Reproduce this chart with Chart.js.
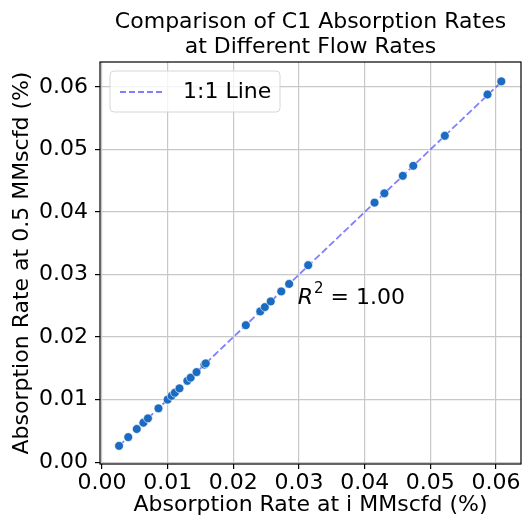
<!DOCTYPE html>
<html>
<head>
<meta charset="utf-8">
<script src="https://cdn.jsdelivr.net/npm/chart.js@4.4.0/dist/chart.umd.min.js"></script>
<style>
  html, body { margin: 0; padding: 0; background: #fff; }
  #wrap { width: 522px; height: 518px; }
</style>
</head>
<body>
<div id="wrap"><canvas id="myChart" width="522" height="518"></canvas></div>
<script>
// absorption rates (%) at i MMscfd vs 0.5 MMscfd
const rateAtI = [0.0026, 0.0040, 0.0053, 0.0063, 0.0070, 0.0086, 0.0100, 0.0106, 0.0111, 0.0118,
  0.0130, 0.0135, 0.0144, 0.0156, 0.0158, 0.0219, 0.0241, 0.0248, 0.0257, 0.0273,
  0.0285, 0.0314, 0.0415, 0.0430, 0.0458, 0.0474, 0.0522, 0.0587, 0.0608];
const rateAtHalf = [0.0026, 0.0040, 0.0053, 0.0063, 0.0070, 0.0086, 0.0100, 0.0106, 0.0111, 0.0118,
  0.0130, 0.0135, 0.0144, 0.0156, 0.0158, 0.0219, 0.0241, 0.0248, 0.0257, 0.0273,
  0.0285, 0.0315, 0.0415, 0.0430, 0.0458, 0.0474, 0.0522, 0.0588, 0.0609];
const tickVals = [0, 0.01, 0.02, 0.03, 0.04, 0.05, 0.06];
const titleLines = ["Comparison of C1 Absorption Rates", "at Different Flow Rates"];
const rSquared = "1.00";

const FONT = "'DejaVu Sans', sans-serif";
const LINE_COLOR = "rgba(0,0,255,0.5)";

const points = rateAtI.map((x, i) => ({ x: x, y: rateAtHalf[i] }));
const lo = Math.min(...rateAtI), hi = Math.max(...rateAtI);

// title, frame, legend box and R^2 text
const extras = {
	id: "extras",
	afterDraw(chart) {
		const ctx = chart.ctx;
		const a = chart.chartArea;
		const xs = chart.scales.x, ys = chart.scales.y;
		ctx.save();

		// frame
		ctx.strokeStyle = "#000";
		ctx.lineWidth = 1.2;
		ctx.strokeRect(a.left, a.top, a.right - a.left, a.bottom - a.top);

		// title
		ctx.fillStyle = "#000";
		ctx.font = "22px " + FONT;
		ctx.textAlign = "center";
		ctx.textBaseline = "middle";
		const cx = (a.left + a.right) / 2;
		titleLines.forEach((t, i) => ctx.fillText(t, cx, 22 + i * 25));

		// legend
		const lx = 110, ly = 71, lw = 170, lh = 41;
		ctx.beginPath();
		ctx.roundRect(lx, ly, lw, lh, 4);
		ctx.fillStyle = "rgba(255,255,255,0.8)";
		ctx.fill();
		ctx.strokeStyle = "#d6d6d6";
		ctx.lineWidth = 1;
		ctx.stroke();
		ctx.beginPath();
		ctx.setLineDash([6, 3]);
		ctx.strokeStyle = LINE_COLOR;
		ctx.lineWidth = 1.8;
		ctx.moveTo(120, 92);
		ctx.lineTo(165, 92);
		ctx.stroke();
		ctx.setLineDash([]);
		ctx.fillStyle = "#000";
		ctx.textAlign = "left";
		ctx.fillText(chart.data.datasets[1].label, 183, 92);

		// R^2 annotation
		const tx = xs.getPixelForValue(0.0298);
		const ty = ys.getPixelForValue(0.0262);
		ctx.font = "italic 22px " + FONT;
		ctx.fillText("R", tx, ty);
		let w = ctx.measureText("R").width;
		ctx.font = "15px " + FONT;
		ctx.fillText("2", tx + w + 1, ty - 9);
		w += ctx.measureText("2").width + 1;
		ctx.font = "22px " + FONT;
		ctx.fillText(" = " + rSquared, tx + w, ty);

		ctx.restore();
	}
};

const setTicks = (scale) => { scale.ticks = tickVals.map(v => ({ value: v })); };

new Chart(document.getElementById("myChart"), {
	type: "scatter",
	data: {
		datasets: [
			{
				label: "data",
				data: points,
				backgroundColor: "#1b6cc0",
				borderColor: "#ffffff",
				borderWidth: 0.6,
				pointRadius: 4.4,
				order: 1,
			},
			{
				type: "line",
				label: "1:1 Line",
				data: [{ x: lo, y: lo }, { x: hi, y: hi }],
				borderColor: LINE_COLOR,
				borderDash: [7, 3],
				borderWidth: 1.8,
				pointRadius: 0,
				order: 2,
			},
		],
	},
	options: {
		responsive: false,
		animation: false,
		layout: { autoPadding: false, padding: { top: 62, right: 1, left: 0, bottom: 0 } },
		plugins: {
			legend: { display: false },
			tooltip: { enabled: false },
		},
		scales: {
			x: {
				type: "linear",
				min: -0.0003,
				max: 0.0638,
				afterBuildTicks: setTicks,
				afterFit: (s) => { s.height = 54; s.paddingLeft = 0; s.paddingRight = 0; },
				border: { display: false },
				grid: { color: "#c8c8c8", lineWidth: 1.2, tickLength: 5, tickColor: "#000" },
				ticks: {
					callback: (v) => v.toFixed(2),
					font: { family: FONT, size: 22 },
					color: "#000",
					padding: 1,
					maxRotation: 0,
				},
				title: {
					display: true,
					text: "Absorption Rate at i MMscfd (%)",
					font: { family: FONT, size: 22 },
					color: "#000",
					padding: { top: 3, bottom: 0 },
				},
			},
			y: {
				type: "linear",
				min: -0.0003,
				max: 0.064,
				afterBuildTicks: setTicks,
				afterFit: (s) => { s.width = 100; s.paddingTop = 0; s.paddingBottom = 0; },
				border: { display: false },
				grid: { color: "#c8c8c8", lineWidth: 1.2, tickLength: 5, tickColor: "#000" },
				ticks: {
					callback: (v) => v.toFixed(2),
					font: { family: FONT, size: 22 },
					color: "#000",
					padding: 7,
				},
				title: {
					display: true,
					text: "Absorption Rate at 0.5 MMscfd (%)",
					font: { family: FONT, size: 22 },
					color: "#000",
					padding: { top: 9, bottom: 4 },
				},
			},
		},
	},
	plugins: [extras],
});
</script>
</body>
</html>
